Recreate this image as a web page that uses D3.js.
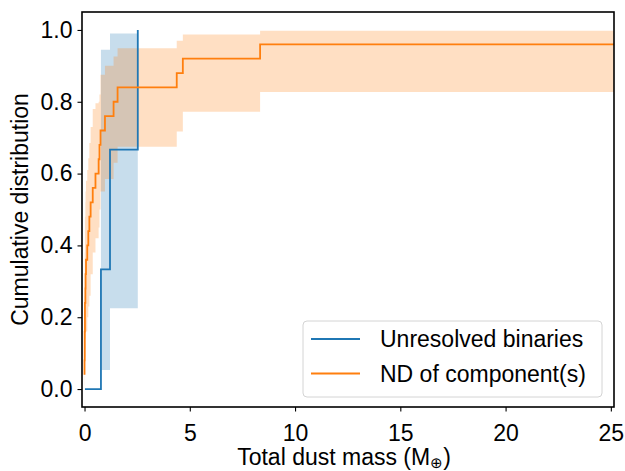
<!DOCTYPE html>
<html>
<head>
<meta charset="utf-8">
<script src="https://cdn.jsdelivr.net/npm/d3@7/dist/d3.min.js"></script>
<style>
  body { margin: 0; background: #fff; }
  text { font-family: "Liberation Sans", Arial, sans-serif; fill: #000; }
</style>
</head>
<body>
<div id="chart"></div>
<script>
// Unresolved binaries: step positions, cumulative values and confidence band
var blueMass = [0.02, 0.78, 1.21, 2.53];
var blueCdf = [0, 0.333, 0.667, 1.0];
var blueLow = [0, 0.053, 0.225, 1.0];
var blueHigh = [0, 0.945, 0.99, 1.0];

// ND of component(s)
var orangeMass = [0.0, 0.0, 0.01, 0.01, 0.02, 0.02, 0.04, 0.05, 0.07, 0.13, 0.18, 0.23,
  0.29, 0.39, 0.52, 0.67, 0.71, 0.76, 0.97, 1.38, 1.57, 4.38, 4.67, 8.34, 25.3];
var orangeCdf = [0.04, 0.08, 0.12, 0.16, 0.20, 0.24, 0.28, 0.32, 0.36, 0.40, 0.44, 0.48,
  0.52, 0.56, 0.60, 0.64, 0.68, 0.72, 0.76, 0.80, 0.84, 0.88, 0.92, 0.96, 0.96];
var orangeLow = [0.0, 0.01, 0.03, 0.05, 0.07, 0.09, 0.11, 0.14, 0.16, 0.20, 0.23, 0.26,
  0.32, 0.38, 0.42, 0.45, 0.50, 0.55, 0.585, 0.63, 0.675, 0.717, 0.772, 0.827, 0.827];
var orangeHigh = [0.20, 0.26, 0.32, 0.38, 0.43, 0.48, 0.52, 0.55, 0.58, 0.61, 0.643, 0.685,
  0.73, 0.78, 0.796, 0.80, 0.82, 0.875, 0.90, 0.926, 0.949, 0.97, 0.987, 0.998, 0.998];

var xTicks = [0, 5, 10, 15, 20, 25];
var yTicks = [0.0, 0.2, 0.4, 0.6, 0.8, 1.0];
var seriesNames = ["Unresolved binaries", "ND of component(s)"];
var colors = ["#1f77b4", "#ff7f0e"];

var svgWidth = 625;
var svgHeight = 471;
var margin = { top: 12, right: 11, bottom: 64, left: 82 };
var width = svgWidth - margin.left - margin.right;
var height = svgHeight - margin.top - margin.bottom;
var fontSize = "23px";

var svg = d3.select("#chart")
  .append("svg")
  .attr("width", svgWidth)
  .attr("height", svgHeight);

var chartGroup = svg.append("g")
  .attr("transform", `translate(${margin.left}, ${margin.top})`);

var xScale = d3.scaleLinear().domain([-0.12, 25.15]).range([0, width]);
var yScale = d3.scaleLinear().domain([-0.05, 1.05]).range([height, 0]);

chartGroup.append("clipPath").attr("id", "plotArea")
  .append("rect").attr("width", width).attr("height", height);

function toRows(xs, ys, lo, hi) {
  return xs.map((x, i) => ({ x: x, y: ys[i], lo: lo[i], hi: hi[i] }));
}
var series = [
  toRows(blueMass, blueCdf, blueLow, blueHigh),
  toRows(orangeMass, orangeCdf, orangeLow, orangeHigh)
];

var band = d3.area()
  .curve(d3.curveStepAfter)
  .x(d => xScale(d.x))
  .y0(d => yScale(d.lo))
  .y1(d => yScale(d.hi));

var line = d3.line()
  .curve(d3.curveStepAfter)
  .x(d => xScale(d.x))
  .y(d => yScale(d.y));

var plot = chartGroup.append("g").attr("clip-path", "url(#plotArea)");

// bands first, then lines on top
series.forEach(function (rows, i) {
  plot.append("path")
    .datum(rows)
    .attr("d", band)
    .attr("fill", colors[i])
    .attr("fill-opacity", 0.25);
});
series.forEach(function (rows, i) {
  plot.append("path")
    .datum(rows)
    .attr("d", line)
    .attr("fill", "none")
    .attr("stroke", colors[i])
    .attr("stroke-width", 1.8);
});

// axes
var bottomAxis = d3.axisBottom(xScale).tickValues(xTicks).tickSize(4.5).tickPadding(13)
  .tickFormat(d3.format("d"));
var leftAxis = d3.axisLeft(yScale).tickValues(yTicks).tickSize(4.5).tickPadding(5)
  .tickFormat(d3.format(".1f"));

var xg = chartGroup.append("g")
  .attr("transform", `translate(0, ${height})`)
  .call(bottomAxis);
var yg = chartGroup.append("g").call(leftAxis);

[xg, yg].forEach(function (g) {
  g.attr("font-size", null).attr("font-family", null);
  g.select(".domain").remove();
  g.selectAll(".tick line").attr("stroke", "#000").attr("stroke-width", 1.1);
  g.selectAll(".tick text")
    .style("font-size", fontSize)
    .attr("fill", "#000");
});

chartGroup.append("rect")
  .attr("width", width)
  .attr("height", height)
  .attr("fill", "none")
  .attr("stroke", "#000")
  .attr("stroke-width", 1.6);

// axis labels
var xLabel = chartGroup.append("text")
  .attr("x", width / 2 - 4)
  .attr("y", height + 58)
  .attr("text-anchor", "middle")
  .style("font-size", fontSize);
xLabel.append("tspan").text("Total dust mass (M");
xLabel.append("tspan").style("font-size", "15px").attr("dy", 3).text("\u2295");
xLabel.append("tspan").attr("dy", -3).text(")");

chartGroup.append("text")
  .attr("transform", "rotate(-90)")
  .attr("x", -height / 2)
  .attr("y", -margin.left + 28)
  .attr("text-anchor", "middle")
  .style("font-size", fontSize)
  .text("Cumulative distribution");

// legend
var legend = svg.append("g").attr("transform", "translate(303, 321)");
legend.append("rect")
  .attr("width", 299)
  .attr("height", 76)
  .attr("rx", 4)
  .attr("fill", "#fff")
  .attr("fill-opacity", 0.8)
  .attr("stroke", "#d4d4d4")
  .attr("stroke-width", 1);

seriesNames.forEach(function (name, i) {
  var row = legend.append("g").attr("transform", `translate(0, ${18 + i * 34.5})`);
  row.append("line")
    .attr("x1", 8).attr("x2", 57)
    .attr("stroke", colors[i])
    .attr("stroke-width", 1.8);
  row.append("text")
    .attr("x", 77)
    .attr("y", 8)
    .style("font-size", fontSize)
    .text(name);
});
</script>
</body>
</html>
